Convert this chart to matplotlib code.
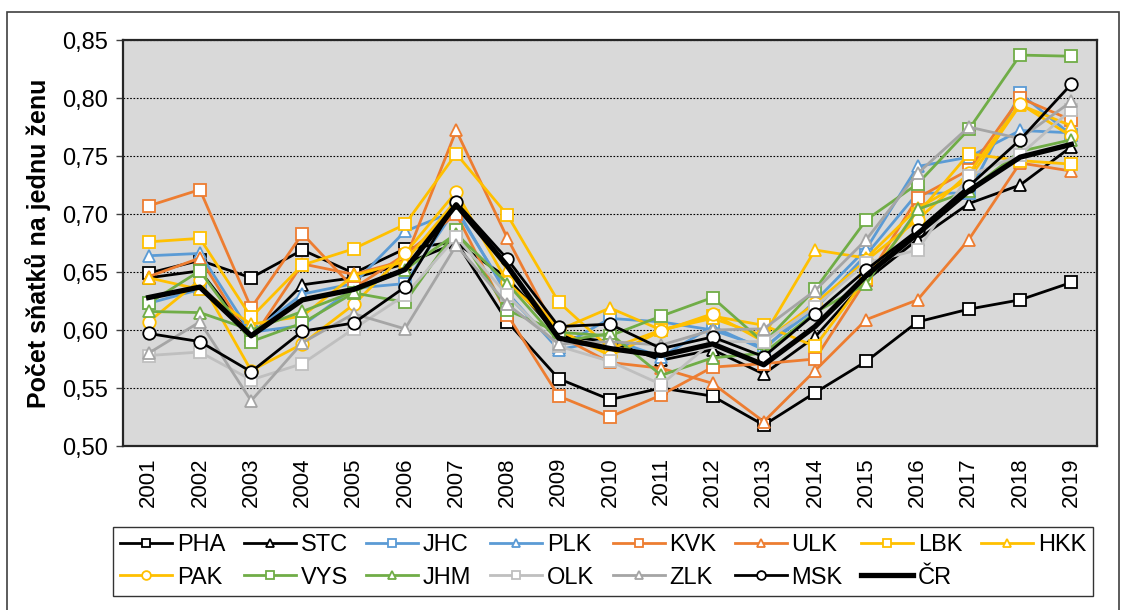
import matplotlib
matplotlib.use("Agg")
import matplotlib.pyplot as plt
from matplotlib.patches import Rectangle
from matplotlib.ticker import FuncFormatter

plt.rcParams['font.family'] = ['Liberation Sans', 'DejaVu Sans']

years = list(range(2001, 2020))

PHA = [0.649, 0.660, 0.645, 0.669, 0.649, 0.670, 0.676, 0.607, 0.558, 0.540, 0.550, 0.543, 0.518, 0.546, 0.573, 0.607, 0.618, 0.626, 0.641]
STC = [0.645, 0.651, 0.595, 0.639, 0.645, 0.657, 0.675, 0.645, 0.595, 0.590, 0.574, 0.583, 0.562, 0.594, 0.643, 0.678, 0.709, 0.725, 0.758]
JHC = [0.623, 0.635, 0.598, 0.604, 0.636, 0.640, 0.705, 0.630, 0.585, 0.610, 0.607, 0.600, 0.585, 0.618, 0.665, 0.718, 0.718, 0.804, 0.768]
PLK = [0.664, 0.666, 0.597, 0.631, 0.640, 0.685, 0.703, 0.632, 0.583, 0.592, 0.577, 0.603, 0.583, 0.625, 0.670, 0.741, 0.749, 0.772, 0.770]
KVK = [0.707, 0.721, 0.619, 0.683, 0.636, 0.665, 0.700, 0.613, 0.543, 0.525, 0.544, 0.568, 0.571, 0.575, 0.643, 0.714, 0.738, 0.800, 0.781]
ULK = [0.646, 0.662, 0.591, 0.657, 0.648, 0.660, 0.772, 0.679, 0.595, 0.572, 0.567, 0.554, 0.521, 0.565, 0.609, 0.626, 0.678, 0.744, 0.737]
LBK = [0.676, 0.679, 0.611, 0.656, 0.670, 0.691, 0.752, 0.699, 0.624, 0.584, 0.600, 0.612, 0.604, 0.586, 0.645, 0.700, 0.752, 0.746, 0.743]
HKK = [0.645, 0.635, 0.605, 0.612, 0.647, 0.659, 0.712, 0.652, 0.600, 0.619, 0.600, 0.610, 0.595, 0.669, 0.662, 0.705, 0.730, 0.794, 0.776]
PAK = [0.607, 0.643, 0.565, 0.588, 0.622, 0.666, 0.719, 0.641, 0.600, 0.578, 0.599, 0.614, 0.590, 0.623, 0.660, 0.695, 0.735, 0.795, 0.767]
VYS = [0.623, 0.651, 0.590, 0.606, 0.632, 0.624, 0.686, 0.617, 0.598, 0.595, 0.612, 0.628, 0.589, 0.635, 0.695, 0.726, 0.773, 0.837, 0.836]
JHM = [0.616, 0.615, 0.600, 0.616, 0.633, 0.652, 0.683, 0.640, 0.590, 0.597, 0.561, 0.576, 0.580, 0.615, 0.640, 0.704, 0.720, 0.754, 0.764]
OLK = [0.578, 0.581, 0.557, 0.571, 0.601, 0.630, 0.680, 0.630, 0.586, 0.573, 0.553, 0.590, 0.590, 0.620, 0.658, 0.669, 0.733, 0.751, 0.790]
ZLK = [0.580, 0.607, 0.539, 0.589, 0.614, 0.601, 0.673, 0.622, 0.588, 0.590, 0.587, 0.600, 0.601, 0.634, 0.678, 0.735, 0.775, 0.765, 0.797]
MSK = [0.597, 0.590, 0.564, 0.599, 0.606, 0.637, 0.710, 0.661, 0.603, 0.605, 0.584, 0.594, 0.577, 0.614, 0.652, 0.686, 0.724, 0.764, 0.812]
CR = [0.628, 0.637, 0.595, 0.626, 0.635, 0.652, 0.708, 0.655, 0.593, 0.584, 0.578, 0.588, 0.570, 0.603, 0.647, 0.683, 0.720, 0.749, 0.760]

BLACK = '#000000'
BLUE = '#5B9BD5'
ORANGE = '#ED7D31'
GOLD = '#FFC000'
GREEN = '#70AD47'
GRAY = '#A5A5A5'
LGRAY = '#BFBFBF'

series = [
    ('PHA', PHA, BLACK, 's'),
    ('STC', STC, BLACK, '^'),
    ('JHC', JHC, BLUE, 's'),
    ('PLK', PLK, BLUE, '^'),
    ('KVK', KVK, ORANGE, 's'),
    ('ULK', ULK, ORANGE, '^'),
    ('LBK', LBK, GOLD, 's'),
    ('HKK', HKK, GOLD, '^'),
    ('PAK', PAK, GOLD, 'o'),
    ('VYS', VYS, GREEN, 's'),
    ('JHM', JHM, GREEN, '^'),
    ('OLK', OLK, LGRAY, 's'),
    ('ZLK', ZLK, GRAY, '^'),
    ('MSK', MSK, BLACK, 'o'),
]

fig = plt.figure(figsize=(11.27, 6.10), dpi=100)
ax = fig.add_axes([123/1127, 1-446/610, 974/1127, 406/610])
ax.set_facecolor('#D9D9D9')

handles = []
z = 3
for name, vals, col, mk in series:
    h, = ax.plot(years, vals, color=col, lw=2.0, marker=mk, markersize=9,
                 markerfacecolor='white', markeredgecolor=col, markeredgewidth=1.3,
                 label=name, zorder=z)
    handles.append(h)
    z += 1
h, = ax.plot(years, CR, color='black', lw=3.8, label='ČR', zorder=z)
handles.append(h)

ax.set_xlim(2000.5, 2019.5)
ax.set_ylim(0.50, 0.85)
ax.set_yticks([0.50, 0.55, 0.60, 0.65, 0.70, 0.75, 0.80, 0.85])
ax.yaxis.set_major_formatter(FuncFormatter(lambda v, p: f"{v:.2f}".replace('.', ',')))
ax.set_xticks(years)
ax.set_xticklabels([str(y) for y in years], rotation=90, fontsize=16)
ax.tick_params(axis='y', labelsize=17, length=5, width=1, color='#404040', pad=6)
ax.tick_params(axis='x', length=0, pad=8)
ax.grid(axis='y', color='black', linestyle=(0, (1.5, 1.5)), linewidth=0.8, zorder=1)
ax.set_axisbelow(True)
for s in ax.spines.values():
    s.set_color('#262626')
    s.set_linewidth(1.6)

ax.set_ylabel('Počet sňatků na jednu ženu', fontsize=18, fontweight='bold', labelpad=8)

order = [0, 8, 1, 9, 2, 10, 3, 11, 4, 12, 5, 13, 6, 14, 7]
leg_h = [handles[i] for i in order]
leg_l = [handles[i].get_label() for i in order]
leg = fig.legend(leg_h, leg_l, loc='upper left',
                 bbox_to_anchor=(113/1127, 1-601/610, 980/1127, 74/610),
                 mode='expand', ncol=8, fontsize=17, frameon=True, fancybox=False,
                 edgecolor='black', handlelength=2.2, handletextpad=0.2,
                 markerscale=0.7, borderaxespad=0, labelspacing=0.45, borderpad=0.3)
leg.get_frame().set_linewidth(1.0)

fig.patches.append(Rectangle((7/1127, -0.02), 1112/1127, 1-12/610+0.02, transform=fig.transFigure,
                             fill=False, edgecolor='#404040', linewidth=1.2))

fig.savefig('out.png', dpi=100)
